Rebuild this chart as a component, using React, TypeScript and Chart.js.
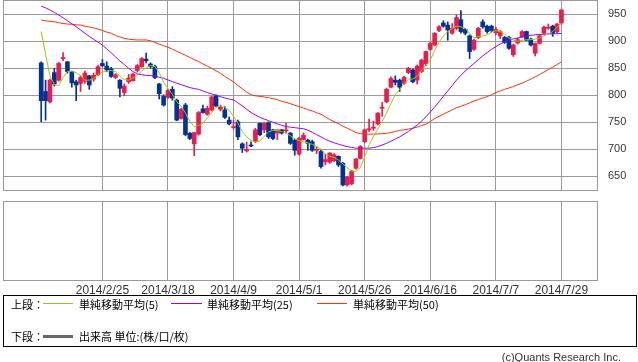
import React, { useEffect, useRef } from "react";
import { Chart, registerables } from "chart.js";

Chart.register(...registerables);

// ---- data ----
const openP = [
  860, 807, 788, 842, 828, 868, 862, 844, 825, 822, 826, 836, 830, 838, 859, 854, 849, 833, 828, 805,
  825, 827, 846, 853, 867, 858, 853, 821, 798, 796, 811, 791, 757, 782, 730, 710, 728, 775, 765, 773,
  799, 774, 773, 754, 740, 751, 710, 697, 708, 715, 748, 736, 749, 736, 730, 736, 734, 730, 717, 691,
  718, 717, 714, 698, 696, 677, 676, 679, 687, 674, 634, 636, 665, 683, 714, 736, 739, 747, 776, 788,
  815, 828, 828, 822, 842, 847, 828, 844, 858, 885, 893, 920, 934, 930, 915, 924, 940, 922, 910, 885,
  907, 936, 928, 928, 916, 910, 907, 907, 875, 897, 908, 918, 904, 878, 896, 915, 924, 928, 918, 934,
];
const highP = [
  862, 828, 830, 850, 861, 879, 863, 845, 828, 836, 845, 837, 841, 856, 866, 862, 852, 840, 829, 821,
  839, 841, 857, 870, 878, 860, 856, 822, 801, 811, 816, 793, 776, 785, 731, 731, 770, 782, 780, 798,
  801, 782, 779, 760, 754, 754, 712, 713, 714, 739, 749, 749, 751, 737, 736, 737, 748, 731, 719, 722,
  730, 719, 717, 705, 699, 691, 694, 692, 688, 676, 650, 661, 683, 707, 737, 756, 752, 768, 787, 813,
  834, 836, 830, 835, 852, 849, 856, 867, 882, 898, 916, 929, 938, 936, 933, 949, 957, 924, 912, 904,
  926, 940, 930, 930, 926, 920, 909, 909, 895, 906, 920, 919, 906, 897, 912, 928, 932, 930, 933, 959,
];
const lowP = [
  751, 754, 786, 817, 826, 864, 841, 815, 790, 807, 822, 811, 826, 837, 853, 844, 833, 831, 797, 799,
  822, 826, 843, 852, 860, 850, 831, 793, 780, 794, 791, 753, 756, 725, 718, 688, 726, 767, 763, 771,
  779, 771, 757, 745, 737, 718, 694, 695, 705, 712, 725, 731, 720, 718, 718, 728, 730, 709, 689, 689,
  717, 698, 696, 692, 665, 671, 674, 677, 668, 632, 632, 634, 663, 682, 712, 733, 735, 745, 761, 786,
  814, 819, 807, 820, 840, 823, 821, 842, 855, 883, 892, 918, 926, 902, 913, 921, 915, 912, 868, 883,
  905, 924, 915, 917, 912, 905, 896, 885, 872, 895, 907, 901, 891, 873, 895, 914, 922, 909, 915, 932,
];
const closeP = [
  790, 790, 828, 821, 859, 870, 844, 823, 819, 833, 841, 819, 837, 853, 855, 847, 835, 838, 813, 817,
  832, 839, 855, 868, 864, 853, 833, 803, 782, 809, 795, 754, 774, 727, 720, 731, 768, 768, 776, 797,
  780, 778, 759, 747, 742, 723, 702, 700, 706, 736, 727, 748, 723, 720, 736, 730, 736, 711, 698, 720,
  726, 711, 698, 700, 668, 681, 693, 690, 671, 634, 648, 659, 682, 705, 736, 738, 741, 767, 778, 811,
  831, 824, 815, 833, 850, 825, 854, 865, 881, 896, 915, 927, 928, 921, 924, 944, 918, 915, 881, 902,
  924, 927, 918, 920, 922, 918, 898, 887, 893, 903, 918, 902, 893, 896, 910, 926, 926, 915, 932, 958,
];
const ma5 = [
  918, 876, 836, 820, 818, 833, 844, 844, 842, 836, 828, 828, 831, 838, 843, 845, 846, 844, 835, 829,
  828, 832, 837, 845, 851, 855, 853, 842, 824, 813, 802, 788, 780, 767, 752, 742, 744, 748, 758, 768,
  778, 780, 778, 772, 761, 748, 733, 723, 716, 714, 715, 724, 732, 735, 735, 733, 730, 725, 719, 716,
  714, 712, 709, 705, 700, 691, 687, 685, 680, 673, 666, 660, 659, 666, 686, 708, 724, 737, 752, 767,
  785, 801, 811, 822, 830, 830, 835, 846, 856, 865, 883, 898, 910, 918, 924, 928, 927, 924, 915, 906,
  909, 910, 912, 917, 920, 918, 913, 906, 902, 900, 902, 903, 903, 904, 906, 910, 914, 918, 926, 934,
];
const ma25 = [
  965, 962, 958, 953.5, 948.7, 943.5, 938, 932.5, 927, 921, 915, 909, 903.7, 898.5, 893, 886, 879, 871, 863.6, 857,
  850, 844, 839.5, 838, 837, 836.5, 835.8, 833.5, 831.5, 828.5, 825.3, 822.5, 819.8, 817, 814.2, 812.5, 811, 808, 805, 802.5,
  800, 797.5, 795, 793, 791.4, 786, 780.3, 774, 768, 763.5, 759.3, 756, 753, 750, 747, 744.5, 742, 741, 740, 739,
  738, 735.5, 731.5, 727, 723, 718.5, 715, 712, 709.5, 707, 705, 703.5, 702, 702, 702, 702, 703, 705, 708, 711,
  715, 719, 723, 728, 733, 739, 745, 752, 760, 769, 778, 788, 798, 808, 818, 828, 837, 845, 852, 859,
  866, 873, 879, 885, 890, 895, 899, 902, 904.5, 906, 908, 909.5, 911, 912, 912.5, 913, 913.5, 914, 914, 914.5,
];
const ma50 = [
  939.5, 938, 937, 936, 934.5, 933, 932, 931.5, 930.5, 930, 928, 926.5, 925, 922.5, 920, 917, 915, 911, 908, 905.5,
  904, 903, 902.5, 902.5, 902.5, 901, 898, 894.5, 892, 889, 885.5, 881.5, 878, 874, 870, 866, 862.5, 858, 854, 850,
  845.5, 840.5, 835, 830, 825, 818, 812, 806, 801, 799, 798, 797, 795.5, 794, 792, 789, 787, 784.5, 781.5, 779,
  776.5, 773.5, 771, 767.5, 765, 760, 755, 751, 747.5, 743, 739, 735, 731, 729, 728.5, 728, 728, 728.4, 729, 729.5,
  731, 733, 735, 736, 737.5, 739, 741, 744, 746.5, 751, 757, 761, 765, 769, 773, 777, 779.5, 782.5, 786, 789.5,
  792, 795, 797.5, 801, 805, 808, 811, 813.5, 816.5, 819.5, 822.5, 826, 830, 834, 838.5, 843, 847.5, 852, 857, 862,
];
const xTickIndex = [14, 29, 44, 59, 74, 89, 104, 119];
const xTickLabels = ["2014/2/25", "2014/3/18", "2014/4/9", "2014/5/1", "2014/5/26", "2014/6/16", "2014/7/7", "2014/7/29"];
const yTickValues = [650, 700, 750, 800, 850, 900, 950];
const legendUpper = ["単純移動平均(5)", "単純移動平均(25)", "単純移動平均(50)"];
const legendLower = "出来高 単位:(株/口/枚)";

// ---- style ----
const UP = "#f0194b";
const DOWN = "#003399";
const GRID = "#9a9a9a";
const X_MIN = -8.74;
const X_MAX = 127.14;

const boxPlugin = {
  id: "panelBox",
  afterDraw(chart: any) {
    const { ctx, chartArea: a } = chart;
    ctx.save();
    ctx.strokeStyle = GRID;
    ctx.lineWidth = 1;
    ctx.strokeRect(Math.floor(a.left) + 0.5, Math.floor(a.top) + 0.5, Math.round(a.right - a.left), Math.round(a.bottom - a.top));
    ctx.restore();
  },
};

function xScaleBase(showLabels: boolean, fitHeight: number) {
  return {
    type: "linear",
    min: X_MIN,
    max: X_MAX,
    offset: false,
    afterBuildTicks: (s: any) => {
      s.ticks = xTickIndex.map((v) => ({ value: v }));
    },
    afterFit: (s: any) => {
      s.height = fitHeight;
      s.paddingLeft = 0;
      s.paddingRight = 0;
    },
    grid: { display: true, color: GRID, lineWidth: 1, drawTicks: false, offset: false },
    border: { display: false },
    ticks: {
      display: showLabels,
      autoSkip: false,
      maxRotation: 0,
      padding: 3,
      color: "#333",
      font: { family: "Liberation Sans", size: 12 },
      callback: (v: any) => {
        const k = xTickIndex.indexOf(Number(v));
        return k >= 0 ? xTickLabels[k] : "";
      },
    },
  };
}

export default function App() {
  const upRef = useRef<HTMLCanvasElement>(null);
  const lowRef = useRef<HTMLCanvasElement>(null);

  useEffect(() => {
    const n = closeP.length;
    const idx = Array.from({ length: n }, (_, i) => i);
    const colors = idx.map((i) => (closeP[i] >= openP[i] ? UP : DOWN));
    const line = (arr: number[], color: string, order: number) => ({
      type: "line",
      data: arr.map((v, i) => ({ x: i, y: v })),
      borderColor: color,
      borderWidth: 1,
      pointRadius: 0,
      tension: 0,
      order,
    });

    const upper = new Chart(upRef.current as HTMLCanvasElement, {
      type: "bar",
      data: {
        datasets: [
          line(ma5, "#99cc00", 1),
          line(ma25, "#9900ff", 2),
          line(ma50, "#ff3300", 3),
          {
            type: "bar",
            data: idx.map((i) => ({ x: i, y: [openP[i], closeP[i]] })),
            backgroundColor: colors,
            borderWidth: 0,
            barThickness: 4,
            minBarLength: 1,
            grouped: false,
            order: 10,
          },
          {
            type: "bar",
            data: idx.map((i) => ({ x: i, y: [lowP[i], highP[i]] })),
            backgroundColor: colors,
            borderWidth: 0,
            barThickness: 1,
            grouped: false,
            order: 11,
          },
        ] as any,
      },
      options: {
        responsive: false,
        animation: false,
        devicePixelRatio: 1,
        layout: { padding: { left: 3, top: 0, right: 0, bottom: 2 } },
        plugins: { legend: { display: false }, tooltip: { enabled: false } },
        scales: {
          x: xScaleBase(false, 0) as any,
          y: {
            type: "linear",
            position: "right",
            min: 624.6,
            max: 976.48,
            afterBuildTicks: (s: any) => {
              s.ticks = yTickValues.map((v) => ({ value: v }));
            },
            afterFit: (s: any) => {
              s.width = 41;
              s.paddingTop = 0;
              s.paddingBottom = 0;
            },
            grid: { color: GRID, lineWidth: 1, drawTicks: false },
            border: { display: false },
            ticks: {
              padding: 11,
              color: "#333",
              font: { family: "Liberation Sans", size: 11 },
            },
          },
        },
      } as any,
      plugins: [boxPlugin],
    });

    const lower = new Chart(lowRef.current as HTMLCanvasElement, {
      type: "bar",
      data: { datasets: [] },
      options: {
        responsive: false,
        animation: false,
        devicePixelRatio: 1,
        layout: { padding: { left: 3, top: 11, right: 0, bottom: 0 } },
        plugins: { legend: { display: false }, tooltip: { enabled: false } },
        scales: {
          x: xScaleBase(true, 20) as any,
          y: {
            type: "linear",
            position: "right",
            min: 0,
            max: 1,
            afterFit: (s: any) => {
              s.width = 41;
              s.paddingTop = 0;
              s.paddingBottom = 0;
            },
            grid: { display: false },
            border: { display: false },
            ticks: { display: false },
          },
        },
      } as any,
      plugins: [boxPlugin],
    });

    return () => {
      upper.destroy();
      lower.destroy();
    };
  }, []);

  const cjk = '"Noto Sans CJK JP", "Noto Sans", sans-serif';
  const txt = (left: number, top: number): React.CSSProperties => ({
    position: "absolute",
    left,
    top,
    fontFamily: cjk,
    fontSize: 11,
    lineHeight: "13px",
    color: "#000",
    whiteSpace: "nowrap",
  });
  const seg = (left: number, top: number, width: number, height: number, bg: string): React.CSSProperties => ({
    position: "absolute",
    left,
    top,
    width,
    height,
    background: bg,
  });

  return (
    <div style={{ position: "absolute", left: 0, top: 0, width: 638, height: 362, background: "#fff", overflow: "hidden" }}>
      <canvas ref={upRef} width={638} height={192} style={{ position: "absolute", left: 0, top: 0, width: 638, height: 192 }} />
      <canvas ref={lowRef} width={638} height={110} style={{ position: "absolute", left: 0, top: 190, width: 638, height: 110 }} />
      <div style={{ position: "absolute", left: 3, top: 295, width: 634, height: 52, border: "1px solid #000", boxSizing: "border-box" }} />
      <div style={txt(11, 298)}>上段：</div>
      <div style={seg(43, 303, 30, 1, "#99cc00")} />
      <div style={txt(79, 298)}>{legendUpper[0]}</div>
      <div style={seg(171, 303, 31, 1, "#9900ff")} />
      <div style={txt(207, 298)}>{legendUpper[1]}</div>
      <div style={seg(317, 303, 30, 1, "#ff3300")} />
      <div style={txt(353, 298)}>{legendUpper[2]}</div>
      <div style={txt(11, 330)}>下段：</div>
      <div style={seg(43, 335, 30, 3, "#666666")} />
      <div style={txt(79, 330)}>{legendLower}</div>
      <div
        style={{
          position: "absolute",
          right: 17,
          top: 351,
          fontFamily: '"Liberation Sans", sans-serif',
          fontSize: 11,
          lineHeight: "13px",
          color: "#333",
          whiteSpace: "nowrap",
        }}
      >
        (c)Quants Research Inc.
      </div>
    </div>
  );
}
